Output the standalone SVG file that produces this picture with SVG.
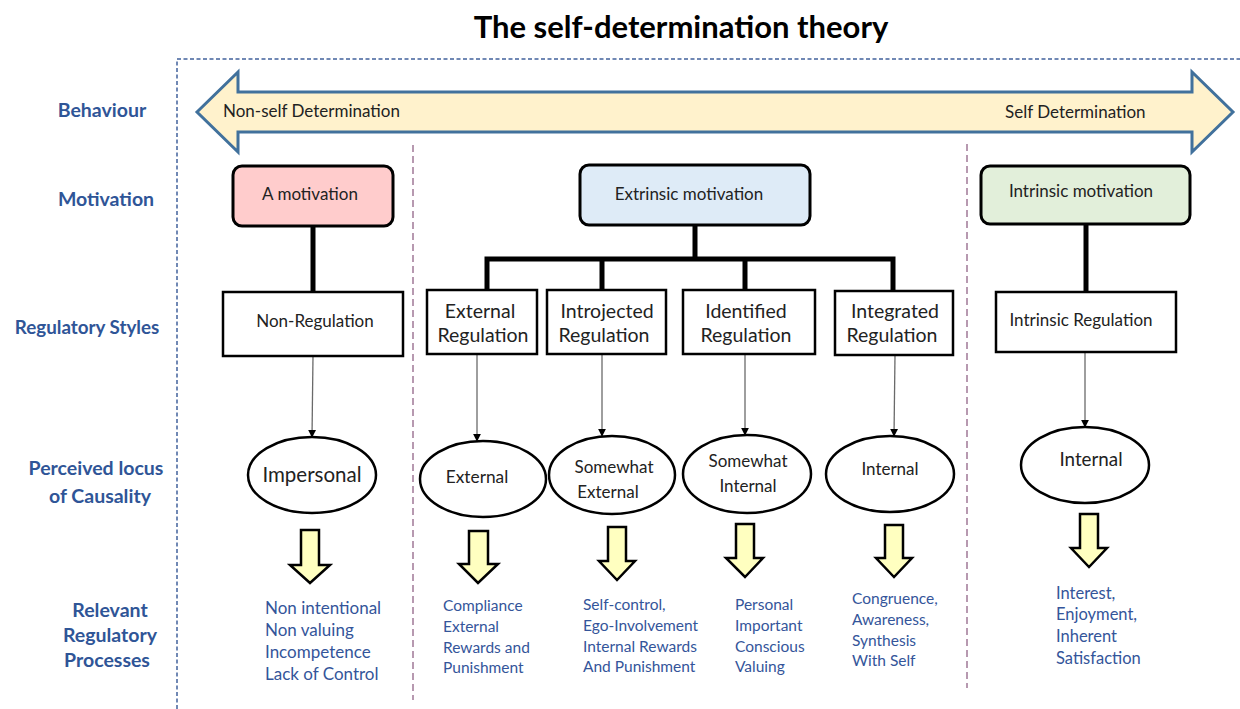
<svg xmlns="http://www.w3.org/2000/svg" width="1240" height="709" viewBox="0 0 1240 709">
<defs>
<style>
.title{font-family:Lato,"Liberation Sans",sans-serif;font-weight:bold;font-size:31px;fill:#000;text-anchor:middle}
.lbl{font-family:Lato,"Liberation Sans",sans-serif;font-weight:bold;font-size:19.5px;fill:#2F5597;text-anchor:middle}
.txt{font-family:Lato,"Liberation Sans",sans-serif;font-size:17px;fill:#222}
.box{font-family:Lato,"Liberation Sans",sans-serif;font-size:19.5px;fill:#222;text-anchor:middle}
.mid{text-anchor:middle}
.blue{font-family:Lato,"Liberation Sans",sans-serif;font-size:15.5px;fill:#34559A}
.rbox{stroke:#000;stroke-width:3}
.sbox{fill:#fff;stroke:#000;stroke-width:2.5}
.ell{fill:#fff;stroke:#000;stroke-width:2.5}
.thick{stroke:#000;stroke-width:5;fill:none}
.thin{stroke:#6a6a6a;stroke-width:1.3;fill:none;marker-end:url(#ah)}
.barrow{fill:#FFFFC0;stroke:#000;stroke-width:2.5;stroke-linejoin:miter}
.sep{stroke:#A07896;stroke-width:1.5;stroke-dasharray:7,4;fill:none}
</style>
<marker id="ah" viewBox="0 0 10 10" refX="9" refY="5" markerWidth="8" markerHeight="8" markerUnits="userSpaceOnUse" orient="auto">
<path d="M0,0 L10,5 L0,10 Z" fill="#000"/>
</marker>
</defs>
<rect width="1240" height="709" fill="#fff"/>

<text class="title" x="681" y="38">The self-determination theory</text>

<path d="M177,709 V59 H1240" fill="none" stroke="#41619C" stroke-width="1.5" stroke-dasharray="4,2.5"/>

<g id="row-labels">
<text class="lbl" x="102" y="117">Behaviour</text>
<text class="lbl" x="106" y="206">Motivation</text>
<text class="lbl" x="87" y="334" style="font-size:18.8px">Regulatory Styles</text>
<text class="lbl" x="96" y="475">Perceived locus</text>
<text class="lbl" x="100" y="503">of Causality</text>
<text class="lbl" x="110" y="617">Relevant</text>
<text class="lbl" x="110" y="642">Regulatory</text>
<text class="lbl" x="107" y="667">Processes</text>
</g>

<g id="behaviour-arrow">
<path d="M197,112 L238,72 V92 H1192 V72 L1233,112 L1192,152 V132 H238 V152 Z" fill="#FFF2CC" stroke="#41719C" stroke-width="3" stroke-linejoin="miter"/>
<text class="txt" x="223" y="117">Non-self Determination</text>
<text class="txt" x="1005" y="118">Self Determination</text>
</g>

<g id="separators">
<line class="sep" x1="413" y1="145" x2="413" y2="700"/>
<line class="sep" x1="967" y1="144" x2="967" y2="688"/>
</g>

<g id="connectors">
<path class="thick" d="M313,226 V292"/>
<path class="thick" d="M695,225 V259 M487,292 V259 H893 V292 M602,259 V292 M745,259 V292"/>
<path class="thick" d="M1086,224 V292"/>
<path class="thin" d="M313,356 L312,437"/>
<path class="thin" d="M477,354 V441"/>
<path class="thin" d="M602,354 V436"/>
<path class="thin" d="M745,354 V435"/>
<path class="thin" d="M895,355 L894,436"/>
<path class="thin" d="M1085,352 V427"/>
</g>

<g id="amotivation">
<rect class="rbox" x="233" y="166" width="160" height="60" rx="9" fill="#FFCCCC"/>
<text class="txt mid" x="310" y="200">A motivation</text>
</g>
<g id="extrinsic">
<rect class="rbox" x="580" y="165" width="230" height="60" rx="9" fill="#DEEBF7"/>
<text class="txt mid" x="689" y="200">Extrinsic motivation</text>
</g>
<g id="intrinsic">
<rect class="rbox" x="981" y="166" width="209" height="58" rx="9" fill="#E2EFDA"/>
<text class="txt mid" x="1081" y="197">Intrinsic motivation</text>
</g>

<g id="non-regulation">
<rect class="sbox" x="223" y="292" width="180" height="64"/>
<text class="txt mid" x="315" y="327">Non-Regulation</text>
</g>
<g id="external-regulation">
<rect class="sbox" x="427" y="290" width="110" height="64"/>
<text class="box" x="480" y="318">External</text>
<text class="box" x="483" y="342">Regulation</text>
</g>
<g id="introjected-regulation">
<rect class="sbox" x="547" y="290" width="119" height="64"/>
<text class="box" x="607" y="318">Introjected</text>
<text class="box" x="604" y="342">Regulation</text>
</g>
<g id="identified-regulation">
<rect class="sbox" x="683" y="290" width="132" height="64"/>
<text class="box" x="746" y="318">Identified</text>
<text class="box" x="746" y="342">Regulation</text>
</g>
<g id="integrated-regulation">
<rect class="sbox" x="835" y="291" width="118" height="64"/>
<text class="box" x="895" y="318">Integrated</text>
<text class="box" x="892" y="342">Regulation</text>
</g>
<g id="intrinsic-regulation">
<rect class="sbox" x="996" y="292" width="180" height="60"/>
<text class="txt mid" x="1081" y="326">Intrinsic Regulation</text>
</g>

<g id="impersonal">
<ellipse class="ell" cx="312" cy="475" rx="64" ry="38"/>
<text class="box" x="312" y="482" style="font-size:20.5px">Impersonal</text>
</g>
<g id="external">
<ellipse class="ell" cx="483" cy="479" rx="63" ry="38"/>
<text class="txt mid" x="477" y="483" style="font-size:17.3px">External</text>
</g>
<g id="somewhat-external">
<ellipse class="ell" cx="612" cy="475" rx="63" ry="39"/>
<text class="box" x="614" y="473" style="font-size:17px">Somewhat</text>
<text class="box" x="608" y="498" style="font-size:17px">External</text>
</g>
<g id="somewhat-internal">
<ellipse class="ell" cx="747" cy="474" rx="64" ry="39"/>
<text class="box" x="748" y="467" style="font-size:17px">Somewhat</text>
<text class="box" x="748" y="492" style="font-size:17px">Internal</text>
</g>
<g id="internal-integrated">
<ellipse class="ell" cx="890" cy="474" rx="64" ry="38"/>
<text class="txt mid" x="890" y="475">Internal</text>
</g>
<g id="internal-intrinsic">
<ellipse class="ell" cx="1085" cy="465" rx="64" ry="38"/>
<text class="box" x="1091" y="466" style="font-size:18.8px">Internal</text>
</g>

<g id="process-arrows">
<path class="barrow" d="M301,530 H319 V565 H330 L310,583 L290,565 H301 Z"/>
<path class="barrow" d="M469,531 H488 V564 H498 L478,583 L459,564 H469 Z"/>
<path class="barrow" d="M608,527 H626 V561 H635 L617,580 L599,561 H608 Z"/>
<path class="barrow" d="M736,524 H754 V558 H763 L745,577 L726,558 H736 Z"/>
<path class="barrow" d="M885,525 H903 V558 H912 L894,577 L876,558 H885 Z"/>
<path class="barrow" d="M1080,514 H1098 V548 H1107 L1089,567 L1071,548 H1080 Z"/>
</g>

<g id="processes">
<text class="blue" x="265" y="614" style="font-size:17px">Non intentional</text>
<text class="blue" x="265" y="636" style="font-size:17px">Non valuing</text>
<text class="blue" x="265" y="658" style="font-size:17px">Incompetence</text>
<text class="blue" x="265" y="680" style="font-size:17px">Lack of Control</text>

<text class="blue" x="443" y="611">Compliance</text>
<text class="blue" x="443" y="632">External</text>
<text class="blue" x="443" y="653">Rewards and</text>
<text class="blue" x="443" y="673">Punishment</text>

<text class="blue" x="583" y="610">Self-control,</text>
<text class="blue" x="583" y="631">Ego-Involvement</text>
<text class="blue" x="583" y="652">Internal Rewards</text>
<text class="blue" x="583" y="672">And Punishment</text>

<text class="blue" x="735" y="610">Personal</text>
<text class="blue" x="735" y="631">Important</text>
<text class="blue" x="735" y="652">Conscious</text>
<text class="blue" x="735" y="672">Valuing</text>

<text class="blue" x="852" y="604">Congruence,</text>
<text class="blue" x="852" y="625">Awareness,</text>
<text class="blue" x="852" y="646">Synthesis</text>
<text class="blue" x="852" y="666">With Self</text>

<text class="blue" x="1056" y="599" style="font-size:16.5px">Interest,</text>
<text class="blue" x="1056" y="620" style="font-size:16.5px">Enjoyment,</text>
<text class="blue" x="1056" y="642" style="font-size:16.5px">Inherent</text>
<text class="blue" x="1056" y="664" style="font-size:16.5px">Satisfaction</text>
</g>
</svg>
